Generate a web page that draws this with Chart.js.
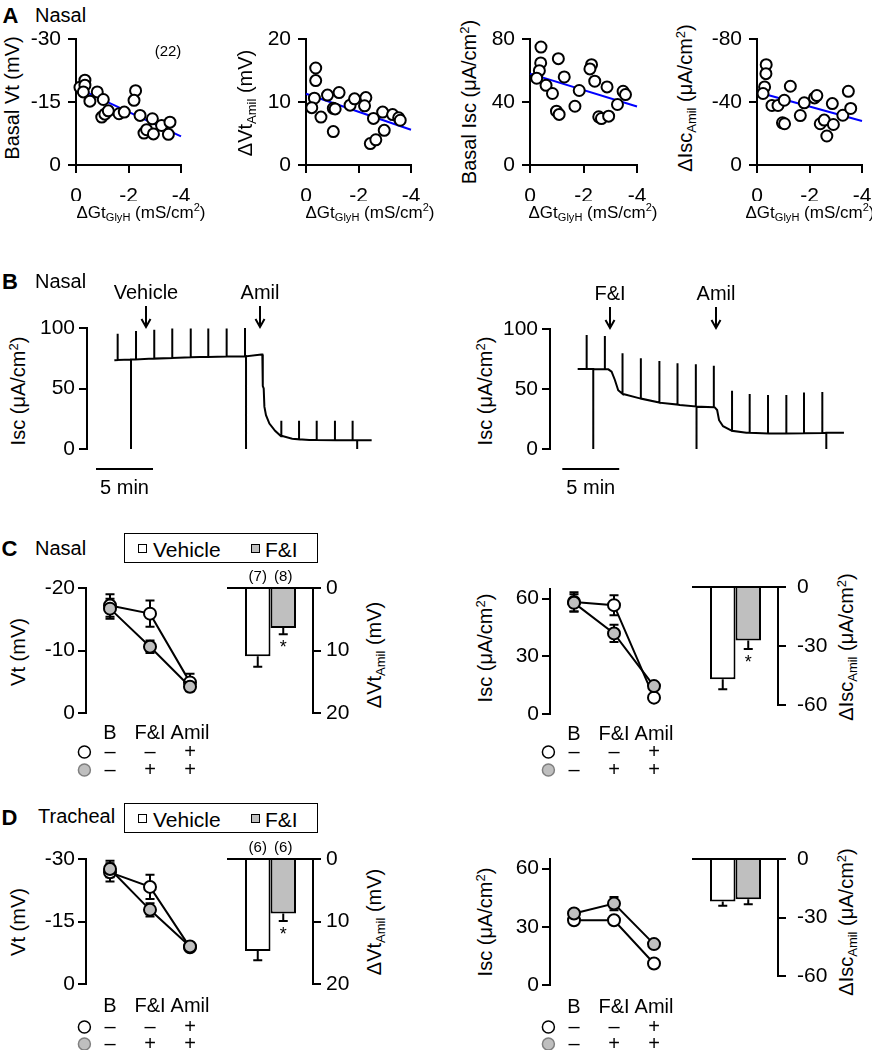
<!DOCTYPE html>
<html><head><meta charset="utf-8"><title>Figure</title>
<script src="https://cdn.jsdelivr.net/npm/chart.js@4.4.1/dist/chart.umd.min.js"></script>
<style>
html,body{margin:0;padding:0;background:#fff;}
#fig{position:relative;width:872px;height:1050px;overflow:hidden;font-family:"Liberation Sans",Arial,Helvetica,sans-serif;color:#000;}
#fig canvas{position:absolute;}
.t{position:absolute;white-space:nowrap;line-height:1;}
.t sub,.t sup{font-size:0.65em;line-height:0;}
.t sub{vertical-align:-0.28em;}
.t sup{vertical-align:0.55em;}
.leg{position:absolute;border:1px solid #000;box-sizing:border-box;background:#fff;}
.sq{position:absolute;width:9px;height:9px;box-sizing:border-box;border:1px solid #000;}
</style></head><body><div id="fig"></div>
<script>
// ---------------- DATA ----------------
// Panel A: dGt(GlyH) (x) vs parameters (n = 22)
const a1X = [-0.15,-0.34,-0.34,-0.28,-0.53,-0.81,-1.04,-0.98,-1.10,-1.23,-1.64,-1.84,-2.27,-2.21,-2.44,-2.91,-2.59,-2.69,-2.95,-3.26,-3.58,-3.52];
const a1Y = [-18.5,-20.2,-19.0,-17.4,-15.2,-17.4,-15.6,-11.4,-12.1,-12.9,-12.2,-12.6,-17.7,-15.4,-11.8,-11.0,-7.6,-8.4,-7.4,-9.4,-10.2,-7.3];
const a2X = [-0.37,-0.37,-0.32,-0.22,-0.57,-0.82,-1.04,-1.11,-1.04,-1.26,-1.68,-1.85,-2.28,-2.23,-2.57,-2.45,-2.66,-2.92,-2.98,-3.30,-3.53,-3.59];
const a2Y = [15.4,13.4,10.6,9.1,7.6,11.1,9.0,8.9,5.3,11.5,9.5,10.5,10.7,9.4,7.4,3.4,4.0,8.4,5.5,8.0,7.5,7.1];
const a3X = [-0.41,-0.40,-0.35,-0.25,-0.60,-0.84,-1.06,-1.28,-0.99,-1.09,-1.68,-1.84,-2.30,-2.24,-2.42,-2.57,-2.67,-2.88,-2.94,-3.27,-3.48,-3.57];
const a3Y = [74.9,64.8,59.9,55.1,50.6,45.4,67.5,55.9,34.2,32.1,37.3,47.3,63.7,61.0,53.2,30.6,29.5,49.6,31.0,38.4,46.8,44.7];
const a4X = [-0.35,-0.34,-0.29,-0.23,-0.57,-0.80,-1.04,-0.97,-1.05,-1.27,-1.65,-1.80,-2.19,-2.28,-2.41,-2.56,-2.66,-2.87,-2.91,-3.27,-3.48,-3.57];
const a4Y = [-63.7,-58.0,-49.6,-45.4,-37.8,-37.8,-41.1,-26.8,-26.2,-50.0,-31.4,-39.5,-42.6,-44.1,-26.2,-28.5,-18.4,-39.0,-25.7,-31.6,-46.8,-35.9];
const fitX = [0, -4];
const a1Fit = [-18.5, -6.8];
const a2Fit = [11.3, 5.6];
const a3Fit = [58.0, 37.1];
const a4Fit = [-46.4, -27.9];
const aXTicks = [0, -2, -4];
const a1Ticks = [-30, -15, 0], a2Ticks = [0, 10, 20], a3Ticks = [0, 40, 80], a4Ticks = [-80, -40, 0];

// Panel B: Isc traces (time in min, Isc in uA/cm2)
const bLeftT = [2.40, 5.82, 9.91, 13.86, 15.30, 15.38, 15.42, 15.50, 15.56, 15.70, 16.00, 16.50, 17.10, 18.00, 19.50, 24.97];
const bLeftI = [73.4, 74.7, 76.0, 76.6, 78.0, 78.0, 52.0, 50.0, 35.0, 28.0, 21.0, 15.0, 11.0, 8.5, 7.5, 7.3];
const bLeftPulseT    = [2.69, 3.86, 4.30, 5.90, 7.48, 9.10, 10.64, 12.25, 13.86, 13.95, 17.02, 18.60, 20.15, 21.75, 23.30, 23.70];
const bLeftPulseBase = [73.5, 73.9, 74.0, 74.7, 75.2, 75.8, 76.1, 76.4, 76.6, 76.6, 10.5, 8.0, 7.4, 7.3, 7.3, 7.3];
const bLeftPulsePeak = [95.3, 0, 97.5, 98.6, 99.5, 99.5, 99.5, 99.5, 100, 0, 23.4, 23.4, 23.4, 23.4, 23.4, 0];
const bRightT = [2.43, 5.12, 5.41, 5.70, 5.99, 6.43, 7.89, 9.65, 11.40, 12.87, 14.47, 14.68, 14.85, 15.20, 15.94, 17.25, 19.59, 25.82];
const bRightI = [66.7, 66.4, 64.4, 57.5, 49.0, 45.8, 42.2, 38.6, 36.7, 35.3, 34.7, 32.5, 24.0, 19.0, 15.3, 13.6, 13.0, 13.6];
const bRightPulseT    = [3.22, 3.80, 4.82, 6.37, 7.98, 9.59, 11.20, 12.81, 12.87, 14.39, 15.99, 17.54, 19.15, 20.76, 22.31, 23.92, 24.27];
const bRightPulseBase = [66.7, 66.7, 66.5, 46.0, 42.0, 38.7, 37.0, 35.4, 35.3, 34.8, 15.2, 13.5, 13.0, 13.0, 13.2, 13.4, 13.5];
const bRightPulsePeak = [95.0, 0, 94.2, 79.7, 75.6, 73.3, 71.4, 70.6, 0, 69.4, 48.6, 45.8, 45.0, 45.0, 47.0, 47.5, 0];
const bTicks = [0, 50, 100];
const bLeftArrowT = [5.2, 15.2], bLeftArrowLbl = ['Vehicle', 'Amil'];
const bRightArrowT = [5.26, 14.56], bRightArrowLbl = ['F&I', 'Amil'];
const bLeftBarStart = 0.79, bRightBarStart = 1.08, bBarLen = 5;

// Panels C and D
const stages = [0, 1, 2];
const stageLabels = ['B', 'F&I', 'Amil'];
const condRows = [['\u2013', '\u2013', '+'], ['\u2013', '+', '+']];
const cVtVeh = [-17.2, -15.9, -4.9],  cVtVehErr = [1.8, 2.1, 1.4];
const cVtFI  = [-16.7, -10.6, -4.2],  cVtFIErr  = [1.6, 1.0, 0.6];
const cVtBar = [10.9, 6.4],           cVtBarErr = [1.7, 1.0];
const cIscVeh = [58.3, 56.6, 8.5],    cIscVehErr = [5.0, 5.2, 1.5];
const cIscFI  = [57.8, 41.9, 14.5],   cIscFIErr  = [4.5, 4.5, 1.5];
const cIscBar = [-46.9, -27.2],       cIscBarErr = [5.1, 4.3];
const dVtVeh = [-26.8, -23.3, -8.8],  dVtVehErr = [2.2, 2.9, 0.8];
const dVtFI  = [-27.6, -17.8, -9.0],  dVtFIErr  = [2.0, 1.6, 0.6];
const dVtBar = [14.7, 8.7],           dVtBarErr = [1.5, 1.2];
const dIscVeh = [33.4, 33.4, 11.1],   dIscVehErr = [1.5, 1.5, 1.0];
const dIscFI  = [36.9, 42.0, 21.1],   dIscFIErr  = [1.5, 3.4, 1.8];
const dIscBar = [-21.8, -20.6],       dIscBarErr = [2.2, 2.6];
const cN = ['(7)', '(8)'], dN = ['(6)', '(6)'];
const cVtStar = [false, true], cIscStar = [false, true], dVtStar = [false, true], dIscStar = [false, false];
const cVtTicks = [-20, -10, 0], dVtTicks = [-30, -15, 0], iscTicks = [0, 30, 60];
const vtBarTicks = [0, 10, 20], iscBarTicks = [0, -30, -60];

// ---------------- HELPERS ----------------
const FONT = '"Liberation Sans", Arial, Helvetica, sans-serif';
const GRAY = '#bfbfbf';
const TICK = 21;
Chart.defaults.font.family = FONT;
Chart.defaults.font.size = TICK;
Chart.defaults.color = '#000';
const fig = document.getElementById('fig');

const errPlugin = {
  id: 'errbars',
  beforeDatasetsDraw(chart) {
    const ctx = chart.ctx;
    chart.data.datasets.forEach((ds, i) => {
      if (!ds.err) return;
      const meta = chart.getDatasetMeta(i);
      const ys = chart.scales[meta.yAxisID];
      ctx.save(); ctx.strokeStyle = '#000'; ctx.lineWidth = 2;
      meta.data.forEach((el, j) => {
        const v = ds.data[j]; const val = (typeof v === 'object') ? v.y : v;
        const e = ds.err[j]; const x = el.x;
        let lo = val - e, hi = val + e;
        if (ds.errOut) { lo = val; hi = val + Math.sign(val) * e; }
        const y1 = ys.getPixelForValue(lo), y2 = ys.getPixelForValue(hi);
        ctx.beginPath(); ctx.moveTo(x, y1); ctx.lineTo(x, y2);
        if (!ds.errOut) { ctx.moveTo(x - 4.5, y1); ctx.lineTo(x + 4.5, y1); }
        ctx.moveTo(x - 4.5, y2); ctx.lineTo(x + 4.5, y2);
        ctx.stroke();
      });
      ctx.restore();
    });
  }
};
Chart.register(errPlugin);

function mk(area, pad, type, data, scales, plugins) {
  const W = area.r - area.l + pad.l + pad.r, H = area.b - area.t + pad.t + pad.b;
  const c = document.createElement('canvas');
  c.width = W; c.height = H;
  c.style.left = (area.l - pad.l) + 'px'; c.style.top = (area.t - pad.t) + 'px';
  c.style.width = W + 'px'; c.style.height = H + 'px';
  fig.appendChild(c);
  const used = {left: false, right: false, top: false, bottom: false};
  const key = {left: 'l', right: 'r', top: 't', bottom: 'b'};
  for (const k in scales) {
    const s = scales[k];
    const pos = s.position || (k === 'x' ? 'bottom' : 'left');
    s.position = pos;
    if (s.display !== false) {
      used[pos] = true;
      const size = pad[key[pos]];
      s.afterFit = sc => {
        if (sc.isHorizontal()) sc.height = size; else sc.width = size;
        sc.paddingLeft = sc.paddingRight = sc.paddingTop = sc.paddingBottom = 0;
      };
    }
  }
  return new Chart(c, {
    type, data,
    options: {
      responsive: false, animation: false, events: [], devicePixelRatio: 1,
      layout: {autoPadding: false, padding: {
        left: used.left ? 0 : pad.l, right: used.right ? 0 : pad.r,
        top: used.top ? 0 : pad.t, bottom: used.bottom ? 0 : pad.b}},
      plugins: {legend: {display: false}, tooltip: {enabled: false}},
      scales
    },
    plugins: plugins || []
  });
}

function lin(min, max, ticks, o) {
  o = o || {};
  return {
    type: 'linear', position: o.pos, min, max, reverse: !!o.rev,
    afterBuildTicks: s => { s.ticks = ticks.map(v => ({value: v})); },
    grid: {display: true, drawOnChartArea: false, drawTicks: true, tickLength: 8, color: '#000', lineWidth: 2},
    border: {display: true, color: '#000', width: 2},
    ticks: {color: '#000', font: {size: o.fs || TICK}, padding: (o.padding !== undefined ? o.padding : 7),
            autoSkip: false, maxRotation: 0, minRotation: 0, callback: v => String(v)}
  };
}
function hidden(min, max) { return {type: 'linear', display: false, min, max}; }
function xStages(min, max, padding) {
  return {
    type: 'linear', position: 'bottom', min, max,
    afterBuildTicks: s => { s.ticks = stages.map(v => ({value: v})); },
    grid: {display: false, drawTicks: false}, border: {display: false},
    ticks: {color: '#000', font: {size: 20}, padding, autoSkip: false, maxRotation: 0, minRotation: 0,
            callback: v => stageLabels[v]}
  };
}
function xBar() {
  return {type: 'category', position: 'top', grid: {display: false, drawTicks: false},
          border: {display: true, color: '#000', width: 2}, ticks: {display: false}};
}
function pts(xs, ys) { return xs.map((x, k) => ({x, y: ys[k]})); }

function T(html, x, y, o) {
  o = o || {};
  const d = document.createElement('div');
  d.className = 't'; d.innerHTML = html;
  d.style.left = x + 'px'; d.style.top = y + 'px';
  d.style.fontSize = (o.size || 20) + 'px';
  if (o.bold) d.style.fontWeight = 'bold';
  d.style.transform = o.rot ? 'translate(-50%,-50%) rotate(-90deg)' :
    (o.align === 'left' ? 'translate(0,-50%)' : 'translate(-50%,-50%)');
  fig.appendChild(d);
}

// ---------------- PANEL A ----------------
function scatterChart(area, pad, xs, ys, fit, yMin, yMax, yTicks, yRev) {
  mk(area, pad, 'scatter', {datasets: [
    {type: 'scatter', data: pts(xs, ys), pointRadius: 5.5, pointBorderWidth: 2, pointBackgroundColor: '#fff',
     pointBorderColor: '#000', order: 1, clip: false},
    {type: 'line', data: pts(fitX, fit), borderColor: '#0000ff', borderWidth: 2, pointRadius: 0, order: 2, clip: false}
  ]}, {
    x: lin(-4, 0, aXTicks, {pos: 'bottom', rev: true, padding: 11}),
    y: lin(yMin, yMax, yTicks, {pos: 'left', rev: yRev, padding: 7})
  });
}
scatterChart({l: 76, t: 39, r: 181, b: 165}, {l: 50, t: 10, r: 14, b: 36}, a1X, a1Y, a1Fit, -30, 0, a1Ticks, true);
scatterChart({l: 306, t: 39, r: 411, b: 165}, {l: 40, t: 10, r: 14, b: 36}, a2X, a2Y, a2Fit, 0, 20, a2Ticks, false);
scatterChart({l: 530, t: 39, r: 637, b: 165}, {l: 40, t: 10, r: 14, b: 36}, a3X, a3Y, a3Fit, 0, 80, a3Ticks, false);
scatterChart({l: 757, t: 39, r: 862, b: 165}, {l: 48, t: 10, r: 10, b: 36}, a4X, a4Y, a4Fit, -80, 0, a4Ticks, true);

// ---------------- PANEL B ----------------
function buildTrace(bt, bi, pt, pb, pp) {
  const a = bt.map((t, k) => ({x: t, y: bi[k], o: 0}));
  pt.forEach((t, k) => { a.push({x: t, y: pb[k], o: 1}, {x: t, y: pp[k], o: 2}, {x: t, y: pb[k], o: 3}); });
  a.sort((p, q) => (p.x - q.x) || (p.o - q.o));
  return a.map(p => ({x: p.x, y: p.y}));
}
function tracePlugin(arrT, arrL, barStart) {
  return {id: 'trace', afterDraw(chart) {
    const xs = chart.scales.x, ys = chart.scales.y, ctx = chart.ctx;
    ctx.save(); ctx.strokeStyle = '#000'; ctx.fillStyle = '#000'; ctx.lineWidth = 2;
    ctx.font = '20px ' + FONT; ctx.textAlign = 'center'; ctx.textBaseline = 'middle';
    arrT.forEach((t, k) => {
      const x = Math.round(xs.getPixelForValue(t));
      const tip = ys.getPixelForValue(100) - 1;
      ctx.beginPath(); ctx.moveTo(x, tip - 21); ctx.lineTo(x, tip);
      ctx.moveTo(x - 4.5, tip - 8); ctx.lineTo(x, tip); ctx.lineTo(x + 4.5, tip - 8); ctx.stroke();
      ctx.fillText(arrL[k], x, tip - 34);
    });
    const x1 = xs.getPixelForValue(barStart), x2 = xs.getPixelForValue(barStart + bBarLen);
    const yb = chart.chartArea.bottom + 20;
    ctx.beginPath(); ctx.moveTo(x1, yb); ctx.lineTo(x2, yb); ctx.stroke();
    ctx.fillText(bBarLen + ' min', (x1 + x2) / 2, yb + 19);
    ctx.restore();
  }};
}
function traceChart(area, xmax, data, plugin) {
  mk(area, {l: 50, t: 60, r: 6, b: 50}, 'line', {datasets: [
    {data, borderColor: '#000', borderWidth: 2, pointRadius: 0, tension: 0, clip: false}
  ]}, {
    x: hidden(0, xmax),
    y: lin(0, 100, bTicks, {pos: 'left', padding: 4})
  }, [plugin]);
}
traceChart({l: 87, t: 328, r: 372, b: 449}, 25,
  buildTrace(bLeftT, bLeftI, bLeftPulseT, bLeftPulseBase, bLeftPulsePeak),
  tracePlugin(bLeftArrowT, bLeftArrowLbl, bLeftBarStart));
traceChart({l: 550, t: 329, r: 846, b: 449}, 26,
  buildTrace(bRightT, bRightI, bRightPulseT, bRightPulseBase, bRightPulsePeak),
  tracePlugin(bRightArrowT, bRightArrowLbl, bRightBarStart));

// ---------------- PANELS C & D ----------------
function rowsPlugin(offsets) {
  return {id: 'rows', afterDraw(chart) {
    const xs = chart.scales.x, ctx = chart.ctx, base = chart.chartArea.bottom;
    ctx.save();
    condRows.forEach((row, r) => {
      const y = base + offsets[r];
      ctx.fillStyle = '#000'; ctx.font = '20px ' + FONT; ctx.textAlign = 'center'; ctx.textBaseline = 'middle';
      row.forEach((s, k) => ctx.fillText(s, xs.getPixelForValue(stages[k]), y));
      const mx = xs.getPixelForValue(-0.64);
      ctx.beginPath(); ctx.arc(mx, y, 6, 0, 2 * Math.PI);
      ctx.fillStyle = r ? GRAY : '#fff'; ctx.fill();
      ctx.lineWidth = 1.5; ctx.strokeStyle = r ? '#808080' : '#000'; ctx.stroke();
    });
    ctx.restore();
  }};
}
function lineChart(area, pad, veh, vehErr, fi, fiErr, yMin, yMax, yTicks, yRev, tickPad, rowOff, xmax) {
  const ds = (vals, err, fill, order) => ({
    type: 'line', data: pts(stages, vals), err, borderColor: '#000', borderWidth: 2,
    pointRadius: 6, pointBorderWidth: 2, pointBackgroundColor: fill, pointBorderColor: '#000',
    tension: 0, order, clip: false});
  mk(area, pad, 'line', {datasets: [ds(fi, fiErr, GRAY, 1), ds(veh, vehErr, '#fff', 2)]}, {
    x: xStages(-0.6, xmax, tickPad),
    y: lin(yMin, yMax, yTicks, {pos: 'left', rev: yRev, padding: 3})
  }, [rowsPlugin(rowOff)]);
}
function barNotes(nLbl, stars) {
  return {id: 'notes', afterDatasetsDraw(chart) {
    const ctx = chart.ctx; const top = chart.chartArea.top;
    ctx.save(); ctx.fillStyle = '#000'; ctx.textAlign = 'center';
    chart.data.datasets.forEach((d, i) => {
      const meta = chart.getDatasetMeta(i); const el = meta.data[0];
      if (nLbl) { ctx.font = '15px ' + FONT; ctx.textBaseline = 'middle'; ctx.fillText(nLbl[i], el.x, top - 11); }
      if (stars[i]) {
        const ys = chart.scales[meta.yAxisID]; const v = d.data[0];
        const yEnd = ys.getPixelForValue(v + Math.sign(v) * d.err[0]);
        ctx.font = '18px ' + FONT; ctx.textBaseline = 'alphabetic';
        ctx.fillText('*', el.x, yEnd + 19);
      }
    });
    ctx.restore();
  }};
}
function barChart(area, pad, vals, errs, yMin, yMax, yTicks, yRev, tickPad, nLbl, stars) {
  const ds = (k, fill) => ({data: [vals[k]], err: [errs[k]], errOut: true, backgroundColor: fill,
    borderColor: '#000', borderWidth: 2, categoryPercentage: 0.6, barPercentage: 1});
  mk(area, pad, 'bar', {labels: [''], datasets: [ds(0, '#fff'), ds(1, GRAY)]}, {
    x: xBar(),
    y: lin(yMin, yMax, yTicks, {pos: 'right', rev: yRev, padding: tickPad})
  }, [barNotes(nLbl, stars)]);
}

// C
lineChart({l: 86, t: 588, r: 212, b: 713}, {l: 45, t: 10, r: 6, b: 70}, cVtVeh, cVtVehErr, cVtFI, cVtFIErr, -20, 0, cVtTicks, true, 8, [39, 57], 2.55);
barChart({l: 228, t: 588, r: 313, b: 713}, {l: 4, t: 22, r: 40, b: 6}, cVtBar, cVtBarErr, 0, 20, vtBarTicks, true, 5, cN, cVtStar);
lineChart({l: 550, t: 589, r: 678, b: 714}, {l: 45, t: 10, r: 6, b: 70}, cIscVeh, cIscVehErr, cIscFI, cIscFIErr, 0, 65, iscTicks, false, 8, [38, 56], 2.6);
barChart({l: 693, t: 587, r: 778, b: 705}, {l: 4, t: 10, r: 52, b: 10}, cIscBar, cIscBarErr, -60, 0, iscBarTicks, false, 11, null, cIscStar);
// D
lineChart({l: 86, t: 859, r: 212, b: 984}, {l: 45, t: 10, r: 6, b: 66}, dVtVeh, dVtVehErr, dVtFI, dVtFIErr, -30, 0, dVtTicks, true, 10, [43, 60], 2.55);
barChart({l: 228, t: 859, r: 313, b: 984}, {l: 4, t: 22, r: 40, b: 6}, dVtBar, dVtBarErr, 0, 20, vtBarTicks, true, 5, dN, dVtStar);
lineChart({l: 550, t: 859, r: 678, b: 985}, {l: 45, t: 10, r: 6, b: 65}, dIscVeh, dIscVehErr, dIscFI, dIscFIErr, 0, 65, iscTicks, false, 10, [42, 59], 2.6);
barChart({l: 693, t: 859, r: 778, b: 976}, {l: 4, t: 10, r: 52, b: 10}, dIscBar, dIscBarErr, -60, 0, iscBarTicks, false, 11, null, dIscStar);

// ---------------- TEXT ----------------
T('A', 10.5, 16, {size: 22, bold: true});  T('Nasal', 35, 15, {align: 'left'});
T('B', 10, 282, {size: 22, bold: true});   T('Nasal', 35, 281, {align: 'left'});
T('C', 9.5, 549, {size: 22, bold: true});  T('Nasal', 35, 548, {align: 'left'});
T('D', 9.5, 818, {size: 22, bold: true});  T('Tracheal', 38, 816, {align: 'left'});
T('(22)', 168, 50, {size: 15});

T('Basal Vt (mV)', 12, 98, {rot: true});
T('\u0394Vt<sub>Amil</sub> (mV)', 245, 103, {rot: true});
T('Basal Isc (\u03bcA/cm<sup>2</sup>)', 469, 102, {rot: true});
T('\u0394Isc<sub>Amil</sub> (\u03bcA/cm<sup>2</sup>)', 685, 98, {rot: true});
[141, 370, 593, 810].forEach(x => T('\u0394Gt<sub>GlyH</sub> (mS/cm<sup>2</sup>)', x, 212, {size: 17}));

T('Isc (\u03bcA/cm<sup>2</sup>)', 18, 391, {rot: true});
T('Isc (\u03bcA/cm<sup>2</sup>)', 485, 391, {rot: true});

[[652, 655, 648, 647], [922, 922, 922, 922]].forEach(ys => {
  T('Vt (mV)', 18, ys[0], {rot: true});
  T('\u0394Vt<sub>Amil</sub> (mV)', 374, ys[1], {rot: true});
  T('Isc (\u03bcA/cm<sup>2</sup>)', 485, ys[2], {rot: true});
  T('\u0394Isc<sub>Amil</sub> (\u03bcA/cm<sup>2</sup>)', 846, ys[3], {rot: true});
});

function legend(top) {
  const L = document.createElement('div'); L.className = 'leg';
  L.style.left = '124px'; L.style.top = top + 'px'; L.style.width = '194px'; L.style.height = '30px';
  L.innerHTML = '<div class="sq" style="left:13px;top:10px;background:#fff"></div>' +
    '<div class="t" style="left:28px;top:15px;font-size:21px;transform:translate(0,-50%)">Vehicle</div>' +
    '<div class="sq" style="left:126px;top:10px;background:' + GRAY + '"></div>' +
    '<div class="t" style="left:140px;top:15px;font-size:21px;transform:translate(0,-50%)">F&amp;I</div>';
  fig.appendChild(L);
}
legend(533); legend(803);
</script></body></html>
